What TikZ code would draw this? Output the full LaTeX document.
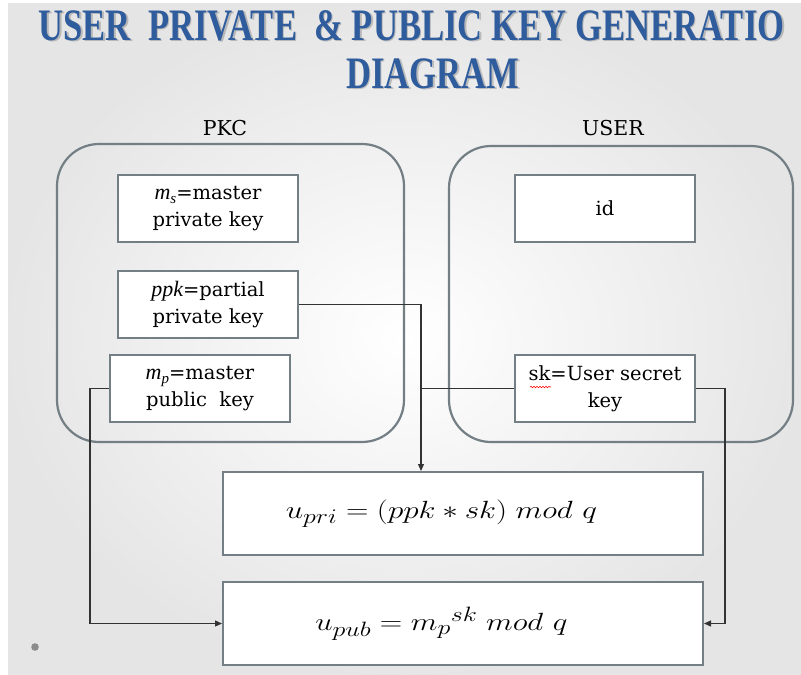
\documentclass[tikz,border=0pt]{standalone}
\usepackage{fontspec}
\setmainfont{Liberation Serif}
\newfontfamily\boxfont{DejaVu Serif}
\usetikzlibrary{arrows.meta,decorations.pathmorphing}

\definecolor{titleblue}{HTML}{2F5C9C}
\definecolor{framegray}{HTML}{737F84}
\definecolor{wire}{HTML}{333333}
\definecolor{dotgray}{HTML}{8C8C8C}

\newcommand{\itvar}[1]{{\rmfamily\itshape\fontsize{22}{22}\selectfont #1}}
\newcommand{\subtxt}[1]{\raisebox{-0.35ex}{\rmfamily\itshape\fontsize{15}{15}\selectfont #1}}
\newcommand{\wideformula}[1]{\scalebox{1.25}[1]{#1}\hspace*{43pt}}

\tikzset{
  group/.style={draw=framegray, line width=2.2pt, rounded corners=42pt},
  keybox/.style={draw=framegray, line width=2pt, fill=white, inner sep=0pt,
    minimum width=180pt, minimum height=67pt, align=center,
    font=\boxfont\fontsize{19.5}{27}\selectfont},
  formbox/.style={draw=framegray, line width=2pt, fill=white, inner sep=0pt,
    minimum width=480pt, minimum height=83pt,
    font=\fontsize{31}{34}\selectfont},
  heading/.style={font=\boxfont\fontsize{20.5}{24}\selectfont, anchor=base},
  titletext/.style={font=\fontsize{45}{50}\selectfont\bfseries, text=titleblue},
  titleshadow/.style={font=\fontsize{45}{50}\selectfont\bfseries, text=black, opacity=0.2},
  wireline/.style={draw=wire, line width=1.1pt},
  arr/.style={-{Triangle[length=7pt,width=6pt]}},
}

\begin{document}
\begin{tikzpicture}[x=1pt,y=-1pt]
  % slide background
  \useasboundingbox (0,0) rectangle (801,675);
  \clip (0,0) rectangle (801,675);
  \fill[white] (0,0) rectangle (801,675);
  \shade[inner color=white, outer color=black!10] (8,3) rectangle (801,674);

  % title with soft shadow
  \node[titleshadow, anchor=base west] at (36.5,41.5)
    {\scalebox{0.77}[1]{USER\ \ PRIVATE\ \ \&\ PUBLIC KEY GENERATIO}};
  \node[titletext, anchor=base west] (title1) at (35,40)
    {\scalebox{0.77}[1]{USER\ \ PRIVATE\ \ \&\ PUBLIC KEY GENERATIO}};
  \node[titleshadow, anchor=base] at (434.5,89.5) {\scalebox{0.77}[1]{DIAGRAM}};
  \node[titletext, anchor=base] (title2) at (433,88) {\scalebox{0.77}[1]{DIAGRAM}};

  % group headings
  \node[heading] (pkclabel) at (225,135) {PKC};
  \node[heading] (userlabel) at (613,135) {USER};

  % group frames
  \node[group, minimum width=347pt, minimum height=298pt] (pkc) at (230.5,293) {};
  \node[group, minimum width=344pt, minimum height=296pt] (user) at (621,294) {};

  % key boxes
  \node[keybox] (ms) at (208,208.5) {\itvar{m}\subtxt{s}=master\\private key};
  \node[keybox] (ppk) at (208,304.5) {\itvar{ppk}=partial\\private key};
  \node[keybox] (mp) at (200,388.5) {\itvar{m}\subtxt{p}=master\\public\ \ key};
  \node[keybox] (id) at (605,208.5) {id};
  \node[keybox] (sk) at (605,388.5) {sk=User secret\\key};
  \draw[red, line width=0.6pt, decorate, decoration={snake, amplitude=0.7pt, segment length=3pt}]
    (530,387) -- (551,387);

  % result boxes
  \node[formbox] (upri) at (463,513.5) {\wideformula{$u_{pri} = (ppk \ast sk)\; mod\ q$}};
  \node[formbox] (upub) at (463,623.5) {\wideformula{$u_{pub} = {m_p}^{sk}\; mod\ q$}};

  % connectors
  \coordinate (jx) at (421,388.5);
  \draw[wireline, arr] (ppk.east) -| (jx |- upri.north);
  \draw[wireline] (sk.west) -- (jx);
  \draw[wireline, arr] (mp.west) -- ++(-19,0) |- (upub.west);
  \draw[wireline, arr] (sk.east) -- ++(29,0) |- (upub.east);

  % slide bullet
  \fill[dotgray] (35,647) circle (3.8pt);
\end{tikzpicture}
\end{document}
